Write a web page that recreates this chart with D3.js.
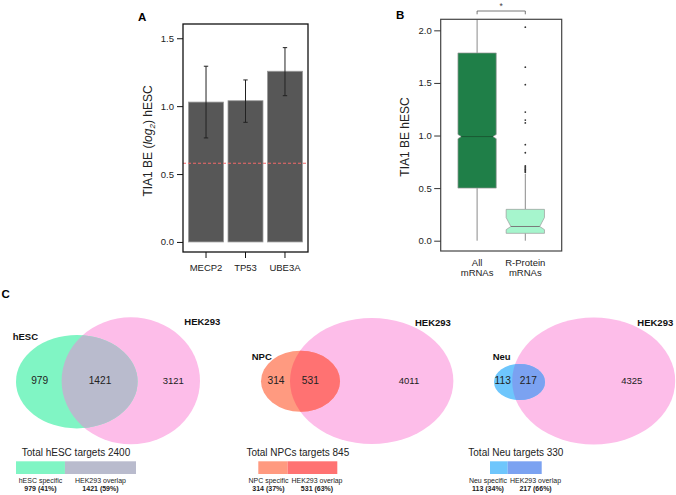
<!DOCTYPE html>
<html><head><meta charset="utf-8">
<script src="https://cdn.jsdelivr.net/npm/d3@7"></script>
<style>
body{margin:0;background:#fff;}
svg{display:block;font-family:"Liberation Sans",Arial,Helvetica,sans-serif;}
</style></head><body>
<svg id="c" width="676" height="495"></svg>
<script>
// ---------- Panel A data ----------
const genes = ["MECP2","TP53","UBE3A"];
const geneMeans = [1.03, 1.04, 1.257];
const geneErrLo = [0.766, 0.881, 1.077];
const geneErrHi = [1.294, 1.193, 1.431];
const thresholdA = 0.58;
const ticksA = [0, 0.5, 1.0, 1.5];

// ---------- Panel B data ----------
const groups = ["All mRNAs", "R-Protein mRNAs"];
const groupLines = [["All","mRNAs"],["R-Protein","mRNAs"]];
const boxLo  = [0.0, 0.0];
const boxQ1  = [0.5, 0.07];
const boxMed = [0.99, 0.135];
const boxQ3  = [1.785, 0.298];
const boxHi  = [2.2, 0.635];
const notchLo = [0.97, 0.105];
const notchHi = [1.01, 0.22];
const outliersR = [2.03, 1.65, 1.483, 1.223, 1.147, 1.12, 0.913, 0.836, 0.71, 0.70, 0.69, 0.68, 0.67, 0.66, 0.65];
const ticksB = [0, 0.5, 1.0, 1.5, 2.0];

// ---------- Panel C data ----------
const cellTypes = ["hESC","NPC","Neu"];
const totalLabel = ["Total hESC targets","Total NPCs targets","Total Neu targets"];
const specificCounts = [979, 314, 113];
const overlapCounts = [1421, 531, 217];
const hekOnlyCounts = [3121, 4011, 4325];
const specificPct = [41, 37, 34];
const overlapPct = [59, 63, 66];

const svg = d3.select("#c");
const FONT = '"Liberation Sans",Arial,Helvetica,sans-serif';

// ================= Panel A =================
{
  const L=183,R=308,T=24,B=252;
  const x = d3.scaleBand().domain(genes).range([L,R]).paddingInner(0.114).paddingOuter(0.14);
  const y = d3.scaleLinear().domain([-0.074,1.605]).range([B,T]);
  const g = svg.append("g");
  g.selectAll("rect.bar").data(genes).join("rect")
    .attr("x",d=>x(d)).attr("width",x.bandwidth())
    .attr("y",(d,i)=>y(geneMeans[i])).attr("height",(d,i)=>y(0)-y(geneMeans[i]))
    .attr("fill","#575757").attr("stroke","#9a9a9a").attr("stroke-width",0.8);
  // threshold
  g.append("line").attr("x1",L).attr("x2",R).attr("y1",y(thresholdA)).attr("y2",y(thresholdA))
    .attr("stroke","#f26a6a").attr("stroke-width",1.1).attr("stroke-dasharray","3,2");
  // error bars
  genes.forEach((d,i)=>{
    const cx = x(d)+x.bandwidth()/2;
    g.append("line").attr("x1",cx).attr("x2",cx).attr("y1",y(geneErrLo[i])).attr("y2",y(geneErrHi[i])).attr("stroke","#222").attr("stroke-width",1);
    [geneErrLo[i],geneErrHi[i]].forEach(v=>g.append("line").attr("x1",cx-2.2).attr("x2",cx+2.2).attr("y1",y(v)).attr("y2",y(v)).attr("stroke","#222").attr("stroke-width",1));
  });
  g.append("rect").attr("x",L).attr("y",T).attr("width",R-L).attr("height",B-T).attr("fill","none").attr("stroke","#111").attr("stroke-width",1.3);
  // y axis
  const ya = g.append("g").attr("transform",`translate(${L},0)`).call(d3.axisLeft(y).tickValues(ticksA).tickFormat(d3.format(".1f")).tickSize(6).tickPadding(3));
  ya.select(".domain").remove();
  ya.selectAll("line").attr("stroke","#111");
  ya.selectAll("text").attr("font-size",9.5).attr("font-family",FONT).attr("fill","#222");
  // x axis
  const xa = g.append("g").attr("transform",`translate(0,${B})`).call(d3.axisBottom(x).tickSize(6).tickPadding(6));
  xa.select(".domain").remove();
  xa.selectAll("line").attr("stroke","#111");
  xa.selectAll("text").attr("font-size",9.5).attr("font-family",FONT).attr("fill","#222");
  // y title
  const t = g.append("text").attr("transform",`translate(152,141) rotate(-90)`).attr("text-anchor","middle")
    .attr("font-size",12).attr("fill","#222");
  t.append("tspan").text("TIA1 BE (");
  t.append("tspan").attr("font-style","italic").text("log");
  t.append("tspan").attr("font-style","italic").attr("font-size",8).attr("dy",2.5).text("2");
  t.append("tspan").attr("dy",-2.5).text(") hESC");
  g.append("text").attr("x",138).attr("y",20.7).attr("font-weight","bold").attr("font-size",11.5).text("A");
}

// ================= Panel B =================
{
  const L=440.7,R=561.7,T=19.3,B=251;
  const x = d3.scalePoint().domain(groups).range([L,R]).padding(0.755);
  const y = d3.scaleLinear().domain([-0.098,2.105]).range([B,T]);
  const bw = 38.3;
  const g = svg.append("g");
  svg.append("defs").append("clipPath").attr("id","clipB").append("rect").attr("x",L).attr("y",T).attr("width",R-L).attr("height",B-T);
  const pg = g.append("g").attr("clip-path","url(#clipB)");
  const fills = ["#1f7f48","#a6f5cd"];
  const medCol = ["#1a5a34","#7a7a7a"];
  const nins = [3.3, 4.7];
  groups.forEach((d,i)=>{
    const cx = x(d), x0 = cx-bw/2, x1 = cx+bw/2, n = nins[i];
    pg.append("line").attr("x1",cx).attr("x2",cx).attr("y1",y(boxQ3[i])).attr("y2",y(boxHi[i])).attr("stroke","#8a8a8a").attr("stroke-width",1);
    pg.append("line").attr("x1",cx).attr("x2",cx).attr("y1",y(boxQ1[i])).attr("y2",y(boxLo[i])).attr("stroke","#8a8a8a").attr("stroke-width",1);
    const pts = [
      [x0,y(boxQ3[i])],[x1,y(boxQ3[i])],[x1,y(notchHi[i])],[x1-n,y(boxMed[i])],[x1,y(notchLo[i])],
      [x1,y(boxQ1[i])],[x0,y(boxQ1[i])],[x0,y(notchLo[i])],[x0+n,y(boxMed[i])],[x0,y(notchHi[i])]
    ];
    pg.append("path").attr("d",d3.line()(pts)+"Z").attr("fill",fills[i]).attr("stroke","#9a9a9a").attr("stroke-width",0.7);
    pg.append("line").attr("x1",x0+n).attr("x2",x1-n).attr("y1",y(boxMed[i])).attr("y2",y(boxMed[i])).attr("stroke",medCol[i]).attr("stroke-width",1);
  });
  pg.selectAll("circle.out").data(outliersR).join("circle")
    .attr("cx",x(groups[1])).attr("cy",d=>y(d)).attr("r",0.9).attr("fill","#333");
  g.append("rect").attr("x",L).attr("y",T).attr("width",R-L).attr("height",B-T).attr("fill","none").attr("stroke","#444").attr("stroke-width",1.2);
  const ya = g.append("g").attr("transform",`translate(${L},0)`).call(d3.axisLeft(y).tickValues(ticksB).tickFormat(d3.format(".1f")).tickSize(6.5).tickPadding(2.5));
  ya.select(".domain").remove();
  ya.selectAll("line").attr("stroke","#333");
  ya.selectAll("text").attr("font-size",9.5).attr("font-family",FONT).attr("fill","#222");
  groups.forEach((d,i)=>{
    groupLines[i].forEach((s,j)=>g.append("text").attr("x",x(d)).attr("y",266+j*10).attr("text-anchor","middle").attr("font-size",9.5).attr("fill","#222").text(s));
  });
  // significance bracket
  const bx0 = x(groups[0]), bx1 = x(groups[1]);
  g.append("path").attr("d",`M${bx0},14.3V11H${bx1}V14.3`).attr("fill","none").attr("stroke","#555").attr("stroke-width",0.8);
  g.append("text").attr("x",(bx0+bx1)/2).attr("y",9).attr("text-anchor","middle").attr("font-size",8.5).attr("fill","#444").text("*");
  g.append("text").attr("transform","translate(406,137) rotate(-90)").attr("text-anchor","middle").attr("dominant-baseline","middle").attr("font-size",12).attr("fill","#222").text("TIA1 BE hESC");
  g.append("text").attr("x",396).attr("y",19.3).attr("font-weight","bold").attr("font-size",11.5).text("B");
}

// ================= Panel C =================
{
  svg.append("text").attr("x",1.5).attr("y",298.3).attr("font-weight","bold").attr("font-size",11.5).text("C");
  const layout = [
    {a:[76.8,381.7,60.8,46.7], h:[130.8,380.8,69.2,63.5], la:[12.7,340], lh:[184.3,325.3], ns:[39.7,100,173.3], bar:[16,136]},
    {a:[300.5,381.2,39.5,30.5], h:[371.7,381,81.7,63], la:[251.7,359.5], lh:[415,325.5], ns:[276,310.3,409], bar:[258.3,337.3]},
    {a:[519.5,382,25.5,18], h:[593.7,381,81.5,63.5], la:[492.7,359.5], lh:[637.3,325.5], ns:[502.7,528.3,631.7], bar:[490,541.7]}
  ];
  const cA = ["#80f5c4","#ff9a80","#6ec6fc"];
  const cO = ["#b9bbcd","#ff7272","#7ba2f1"];
  const pink = "#fdbde9";
  const defs = svg.select("defs");
  cellTypes.forEach((ct,i)=>{
    const Lo = layout[i], g = svg.append("g");
    defs.append("clipPath").attr("id","hek"+i).append("ellipse")
      .attr("cx",Lo.h[0]).attr("cy",Lo.h[1]).attr("rx",Lo.h[2]).attr("ry",Lo.h[3]);
    g.append("ellipse").attr("cx",Lo.h[0]).attr("cy",Lo.h[1]).attr("rx",Lo.h[2]).attr("ry",Lo.h[3]).attr("fill",pink);
    g.append("ellipse").attr("cx",Lo.a[0]).attr("cy",Lo.a[1]).attr("rx",Lo.a[2]).attr("ry",Lo.a[3]).attr("fill",cA[i]);
    g.append("ellipse").attr("cx",Lo.a[0]).attr("cy",Lo.a[1]).attr("rx",Lo.a[2]).attr("ry",Lo.a[3]).attr("fill",cO[i]).attr("clip-path",`url(#hek${i})`);
    g.append("text").attr("x",Lo.la[0]).attr("y",Lo.la[1]).attr("font-weight","bold").attr("font-size",9.5).attr("fill","#111").text(ct);
    g.append("text").attr("x",Lo.lh[0]).attr("y",Lo.lh[1]).attr("font-weight","bold").attr("font-size",9.5).attr("fill","#111").text("HEK293");
    const nums = [specificCounts[i], overlapCounts[i], hekOnlyCounts[i]];
    nums.forEach((v,j)=>g.append("text").attr("x",Lo.ns[j]).attr("y",383.5).attr("text-anchor","middle")
      .attr("font-size",j<2?10.2:9.5).attr("fill","#222").text(v));
    // legend bar
    const total = specificCounts[i]+overlapCounts[i];
    const xs = d3.scaleLinear().domain([0,total]).range(Lo.bar);
    g.append("text").attr("x",(Lo.bar[0]+Lo.bar[1])/2).attr("y",456).attr("text-anchor","middle").attr("font-size",10).attr("fill","#222").text(totalLabel[i]+" "+total);
    g.append("rect").attr("x",xs(0)).attr("y",461.3).attr("width",xs(specificCounts[i])-xs(0)).attr("height",12.7).attr("fill",cA[i]);
    g.append("rect").attr("x",xs(specificCounts[i])).attr("y",461.3).attr("width",xs(total)-xs(specificCounts[i])).attr("height",12.7).attr("fill",cO[i]);
    const c1 = (xs(0)+xs(specificCounts[i]))/2, c2 = (xs(specificCounts[i])+xs(total))/2;
    const l1 = [ct+" specific", `${specificCounts[i]} (${specificPct[i]}%)`];
    const l2 = ["HEK293 overlap", `${overlapCounts[i]} (${overlapPct[i]}%)`];
    const t1 = g.append("text").attr("font-size",7).attr("text-anchor","middle").attr("fill","#222").text(l1[0]);
    const t2 = g.append("text").attr("font-size",7).attr("text-anchor","middle").attr("fill","#222").text(l2[0]);
    const w1 = t1.node().getComputedTextLength(), w2 = t2.node().getComputedTextLength();
    let p1 = c1, p2 = c2;
    const ov = (c1+w1/2+3) - (c2-w2/2);
    if (ov>0){ p1 -= ov/2; p2 += ov/2; }
    t1.attr("x",p1).attr("y",482.5); t2.attr("x",p2).attr("y",482.5);
    g.append("text").attr("x",p1).attr("y",490.8).attr("font-size",7).attr("font-weight","bold").attr("text-anchor","middle").attr("fill","#222").text(l1[1]);
    g.append("text").attr("x",p2).attr("y",490.8).attr("font-size",7).attr("font-weight","bold").attr("text-anchor","middle").attr("fill","#222").text(l2[1]);
  });
}
</script>
</body></html>
